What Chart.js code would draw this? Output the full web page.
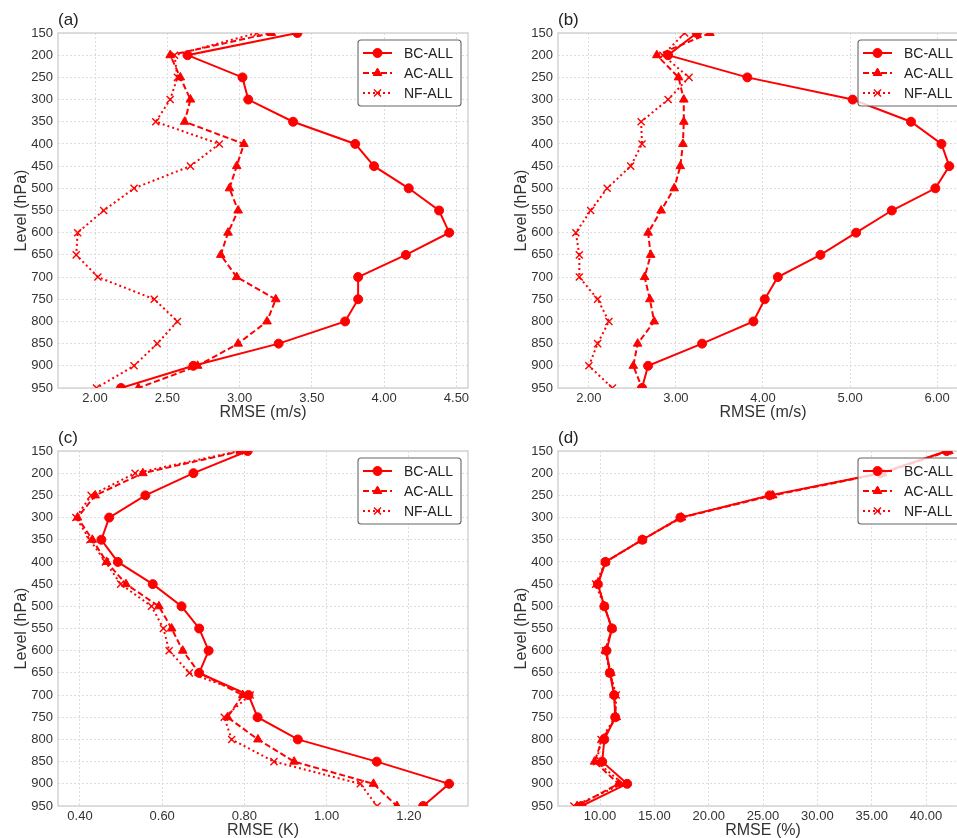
<!DOCTYPE html>
<html>
<head>
<meta charset="utf-8">
<script src="https://cdn.jsdelivr.net/npm/chart.js@4.4.1/dist/chart.umd.min.js"></script>
<style>
  html, body { margin: 0; padding: 0; background: #fff; }
  body { width: 957px; height: 838px; overflow: hidden; position: relative; }
  canvas { position: absolute; }
</style>
</head>
<body>
<canvas id="pa" width="478" height="425" style="left:0;top:0"></canvas>
<canvas id="pb" width="478" height="425" style="left:500px;top:0"></canvas>
<canvas id="pc" width="478" height="425" style="left:0;top:418px"></canvas>
<canvas id="pd" width="478" height="425" style="left:500px;top:418px"></canvas>
<script>
// pressure levels (hPa), top to bottom
const levels = [150, 200, 250, 300, 350, 400, 450, 500, 550, 600, 650, 700, 750, 800, 850, 900, 950];

// (a) RMSE (m/s)
const aBC = [3.40, 2.64, 3.02, 3.06, 3.37, 3.80, 3.93, 4.17, 4.38, 4.45, 4.15, 3.82, 3.82, 3.73, 3.27, 2.68, 2.18];
const aAC = [3.22, 2.52, 2.59, 2.66, 2.62, 3.03, 2.98, 2.93, 2.99, 2.92, 2.87, 2.98, 3.25, 3.19, 2.99, 2.71, 2.30];
const aNF = [3.12, 2.55, 2.57, 2.52, 2.42, 2.86, 2.66, 2.27, 2.06, 1.88, 1.87, 2.02, 2.41, 2.57, 2.43, 2.27, 2.01];

// (b) RMSE (m/s)
const bBC = [3.24, 2.91, 3.82, 5.03, 5.70, 6.05, 6.14, 5.98, 5.48, 5.07, 4.66, 4.17, 4.02, 3.89, 3.30, 2.68, 2.61];
const bAC = [3.39, 2.78, 3.03, 3.09, 3.09, 3.08, 3.05, 2.98, 2.83, 2.68, 2.71, 2.64, 2.70, 2.75, 2.56, 2.51, 2.61];
const bNF = [3.10, 2.85, 3.15, 2.91, 2.60, 2.61, 2.48, 2.21, 2.02, 1.85, 1.89, 1.89, 2.10, 2.23, 2.10, 2.00, 2.27];

// (c) RMSE (K)
const cBC = [0.808, 0.676, 0.559, 0.471, 0.452, 0.492, 0.577, 0.647, 0.690, 0.713, 0.690, 0.810, 0.832, 0.930, 1.122, 1.298, 1.235];
const cAC = [0.793, 0.553, 0.437, 0.394, 0.430, 0.465, 0.512, 0.592, 0.623, 0.650, 0.690, 0.796, 0.759, 0.833, 0.921, 1.114, 1.171];
const cNF = [0.788, 0.534, 0.427, 0.390, 0.424, 0.462, 0.499, 0.574, 0.603, 0.617, 0.666, 0.814, 0.751, 0.769, 0.872, 1.082, 1.123];

// (d) RMSE (%)
const dBC = [41.9, 35.8, 25.6, 17.4, 13.9, 10.5, 9.8, 10.4, 11.1, 10.6, 10.9, 11.3, 11.4, 10.4, 10.2, 12.5, 8.3];
const dAC = [42.1, 36.0, 25.9, 17.5, 13.9, 10.5, 9.8, 10.4, 11.1, 10.5, 11.0, 11.3, 11.5, 10.2, 9.5, 11.7, 7.9];
const dNF = [42.0, 35.9, 25.7, 17.4, 13.9, 10.5, 9.6, 10.4, 11.1, 10.5, 10.9, 11.5, 11.4, 10.1, 9.7, 12.1, 7.6];

// tick labels
const aTicks = [2.0, 2.5, 3.0, 3.5, 4.0, 4.5];
const bTicks = [2, 3, 4, 5, 6];
const cTicks = [0.4, 0.6, 0.8, 1.0, 1.2];
const dTicks = [10, 15, 20, 25, 30, 35, 40];
const levelTicks = levels;

const seriesNames = ["BC-ALL", "AC-ALL", "NF-ALL"];

Chart.defaults.font.family = "'Liberation Sans', Arial, sans-serif";
Chart.defaults.color = "#333";

const RED = "#ff0000";
const styles = [
  { borderDash: [], pointStyle: "circle", pointRadius: 4.5, pointBorderWidth: 1 },
  { borderDash: [6, 3], pointStyle: "triangle", pointRadius: 5, pointBorderWidth: 1 },
  { borderDash: [2, 3], pointStyle: "crossRot", pointRadius: 5, pointBorderWidth: 1.4 }
];

// frame around the plot area and a boxed legend in the top-right corner
const framePlugin = {
  id: "frame",
  beforeDatasetsDraw(chart) {
    const { ctx, chartArea: a } = chart;
    ctx.save();
    ctx.strokeStyle = "#d4d4d4";
    ctx.lineWidth = 1.5;
    ctx.strokeRect(a.left, a.top, a.right - a.left, a.bottom - a.top);
    ctx.restore();
  },
  afterDraw(chart) {
    const { ctx, chartArea: a } = chart;
    const w = 103, h = 66;
    const x0 = a.right - 7 - w, y0 = a.top + 7;
    ctx.save();
    ctx.beginPath();
    ctx.roundRect(x0, y0, w, h, 3);
    ctx.fillStyle = "rgba(255,255,255,0.8)";
    ctx.fill();
    ctx.strokeStyle = "#666";
    ctx.lineWidth = 1.1;
    ctx.stroke();
    chart.data.datasets.forEach((ds, i) => {
      const y = y0 + 13 + i * 20;
      ctx.save();
      ctx.strokeStyle = RED;
      ctx.lineWidth = 2;
      ctx.setLineDash(ds.borderDash);
      ctx.beginPath();
      ctx.moveTo(x0 + 5, y);
      ctx.lineTo(x0 + 34, y);
      ctx.stroke();
      ctx.restore();
      ctx.fillStyle = RED;
      ctx.strokeStyle = RED;
      ctx.lineWidth = ds.pointBorderWidth;
      Chart.helpers.drawPoint(ctx, {
        pointStyle: ds.pointStyle, radius: ds.pointRadius, rotation: 0, borderWidth: ds.pointBorderWidth
      }, x0 + 19.5, y);
      ctx.fillStyle = "#222";
      ctx.font = "14px 'Liberation Sans', Arial, sans-serif";
      ctx.textBaseline = "middle";
      ctx.textAlign = "left";
      ctx.fillText(ds.label, x0 + 46, y + 1);
    });
    ctx.restore();
  }
};

function makePanel(id, tag, xTitle, xMin, xMax, xTicks, series) {
  const datasets = series.map((vals, i) => ({
    label: seriesNames[i],
    data: vals.map((v, k) => ({ x: v, y: levels[k] })),
    showLine: true,
    borderColor: RED,
    backgroundColor: RED,
    pointBackgroundColor: RED,
    pointBorderColor: RED,
    borderWidth: 2,
    clip: 0,
    ...styles[i]
  }));

  new Chart(document.getElementById(id), {
    type: "scatter",
    data: { datasets },
    options: {
      responsive: false,
      animation: false,
      layout: { padding: { left: 0, top: 0, right: 10, bottom: 0 } },
      plugins: {
        legend: { display: false },
        tooltip: { enabled: false },
        title: {
          display: true,
          text: tag,
          align: "start",
          fullSize: false,
          color: "#222",
          font: { size: 17, weight: "normal" },
          padding: { top: 10, bottom: 2.6 }
        }
      },
      scales: {
        x: {
          type: "linear",
          min: xMin,
          max: xMax,
          afterFit: s => { s.height = 37; },
          afterBuildTicks: s => { s.ticks = xTicks.map(v => ({ value: v })); },
          ticks: {
            padding: 3,
            maxRotation: 0,
            autoSkip: false,
            font: { size: 13 },
            color: "#333",
            callback: v => Number(v).toFixed(2)
          },
          grid: { color: "#dcdcdc", drawTicks: false, lineWidth: 1 },
          border: { display: false, dash: [2, 2] },
          title: {
            display: true,
            text: xTitle,
            color: "#333",
            font: { size: 16, lineHeight: 1 },
            padding: { top: 0, bottom: 4 }
          }
        },
        y: {
          type: "linear",
          reverse: true,
          min: 150,
          max: 950,
          afterFit: s => { s.width = 58; },
          afterBuildTicks: s => { s.ticks = levelTicks.map(v => ({ value: v })); },
          ticks: {
            padding: 5,
            autoSkip: false,
            font: { size: 13 },
            color: "#333",
            callback: v => String(v)
          },
          grid: { color: "#dcdcdc", drawTicks: false, lineWidth: 1 },
          border: { display: false, dash: [2, 2] },
          title: {
            display: true,
            text: "Level (hPa)",
            color: "#333",
            font: { size: 16, lineHeight: 1 },
            padding: { top: 14, bottom: 0 }
          }
        }
      }
    },
    plugins: [framePlugin]
  });
}

makePanel("pa", "(a)", "RMSE (m/s)", 1.744, 4.58, aTicks, [aBC, aAC, aNF]);
makePanel("pb", "(b)", "RMSE (m/s)", 1.645, 6.355, bTicks, [bBC, bAC, bNF]);
makePanel("pc", "(c)", "RMSE (K)", 0.3465, 1.344, cTicks, [cBC, cAC, cNF]);
makePanel("pd", "(d)", "RMSE (%)", 6.135, 43.86, dTicks, [dBC, dAC, dNF]);
</script>
</body>
</html>
